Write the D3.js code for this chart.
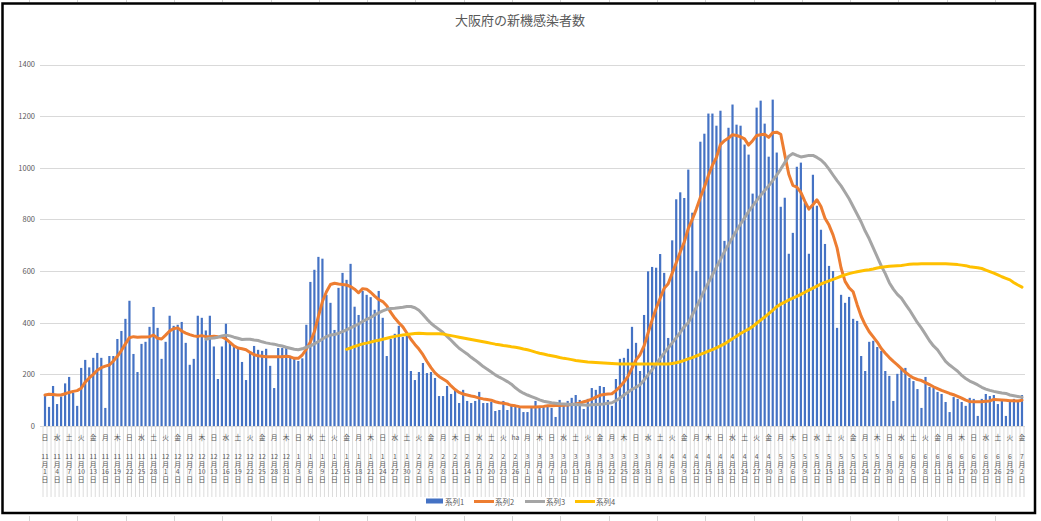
<!DOCTYPE html>
<html><head><meta charset="utf-8">
<script src="https://cdn.jsdelivr.net/npm/d3@7"></script>
<style>
body{margin:0;background:#fff}
svg{display:block}
text{font-family:"Noto Sans CJK JP","Noto Sans",sans-serif;fill:#595959}
</style>
</head><body>
<svg id="c" width="1041" height="521"></svg>
<script>
// ---------- data ----------
const chartTitle = "大阪府の新機感染者数";
const seriesNames = ["系列1","系列2","系列3","系列4"];
const categories = d3.utcDays(new Date(Date.UTC(2020,10,1)), new Date(Date.UTC(2021,6,3))).map(d3.utcFormat("%Y-%m-%d"));

const series1 = [
120,74,155,85,114,165,190,129,78,225,
256,227,264,283,264,70,271,271,337,368,
415,485,279,209,318,326,384,461,380,260,
326,427,388,392,403,322,237,260,427,419,
370,427,308,182,308,396,326,308,304,248,
178,283,310,295,291,299,233,147,302,302,
302,266,260,252,262,392,558,605,655,648,
508,477,372,535,593,566,628,462,430,523,
508,499,450,523,419,271,337,357,388,345,
357,213,178,209,244,205,209,186,116,116,
155,124,140,89,140,97,89,97,132,89,
89,93,58,62,97,62,78,78,70,54,
54,70,97,74,78,81,70,35,101,89,
97,109,120,101,66,105,147,140,155,151,
101,78,182,260,264,299,384,322,213,430,
599,616,613,666,593,341,719,878,905,883,
993,826,601,1101,1132,1210,1210,1163,1221,717,
1155,1245,1167,1163,1090,1051,900,1233,1260,1171,
1043,1264,1059,849,884,667,748,1004,1020,865,
667,973,853,760,705,620,600,380,508,477,
500,415,407,271,213,326,330,306,291,213,
194,97,202,221,225,186,174,143,70,190,
151,147,132,124,93,54,112,105,93,78,
109,105,39,105,124,116,120,85,97,39,
101,105,101,120];

const series2 = [
120,123,122,120,120,125,130,134,137,146,
170,186,200,216,226,232,236,252,270,292,
318,342,346,344,345,345,346,352,340,337,
352,368,377,380,368,360,354,349,347,350,
346,346,348,346,345,337,324,310,302,299,
295,285,276,272,270,268,268,268,268,268,
270,268,262,262,275,298,325,365,425,482,
520,548,553,550,548,546,540,530,516,532,
530,518,503,490,482,466,440,418,400,384,
360,336,316,298,276,250,226,206,192,182,
172,155,141,130,124,120,116,113,108,105,
103,100,94,90,88,85,80,78,75,74,
74,74,74,75,76,78,78,79,79,80,
81,83,85,88,94,98,104,112,119,122,
124,125,137,152,170,192,224,256,276,310,
360,410,455,495,533,551,592,632,674,712,
765,800,840,885,925,970,1010,1040,1090,1105,
1115,1128,1125,1120,1112,1088,1105,1125,1128,1130,
1118,1136,1138,1130,1050,975,932,925,905,870,
840,857,876,850,805,778,740,690,612,560,
535,520,470,425,392,365,345,325,300,282,
265,250,237,222,208,196,186,180,176,168,
160,152,145,138,132,126,121,115,108,100,
95,94,94,94,96,97,103,102,101,100,
98,98,97,100];

const series3 = [
null,null,null,null,null,null,null,null,null,null,
null,null,null,null,null,null,null,null,null,null,
null,null,null,null,null,null,null,null,null,null,
null,null,null,null,null,null,null,null,null,null,
336,340,341,344,349,352,349,344,340,335,
336,336,333,331,326,322,319,317,313,310,
305,301,297,295,299,305,310,318,327,337,
346,352,354,359,366,372,380,388,395,405,
413,420,430,438,446,452,455,456,458,460,
463,463,458,448,432,414,398,385,374,362,
347,332,316,301,290,279,266,255,243,230,
220,209,198,189,181,172,162,148,136,127,
120,114,108,101,96,93,90,88,86,85,
84,83,83,82,81,80,82,83,84,85,
88,90,98,108,120,131,142,150,160,178,
198,218,240,262,282,302,322,342,362,385,
400,430,460,492,525,555,585,615,645,675,
703,730,757,782,806,830,852,873,893,912,
930,950,972,995,1020,1045,1055,1048,1042,1045,
1048,1048,1040,1030,1015,995,972,950,930,905,
880,850,820,790,755,725,690,655,620,590,
555,530,510,495,472,450,425,400,379,355,
330,310,295,272,250,236,224,212,196,184,
174,167,159,150,143,138,134,131,128,126,
120,117,114,111];

const series4 = [
null,null,null,null,null,null,null,null,null,null,
null,null,null,null,null,null,null,null,null,null,
null,null,null,null,null,null,null,null,null,null,
null,null,null,null,null,null,null,null,null,null,
null,null,null,null,null,null,null,null,null,null,
null,null,null,null,null,null,null,null,null,null,
null,null,null,null,null,null,null,null,null,null,
null,null,null,null,null,297,302,308,313,318,
321,325,329,332,336,340,344,347,350,352,
354,356,358,359,358,357,357,357,357,356,
353,350,347,344,341,338,335,332,329,326,
323,320,317,315,312,310,307,305,302,298,
295,291,286,282,279,275,272,269,265,262,
260,257,254,252,250,248,247,246,245,244,
243,242,241,240,240,240,240,240,240,240,
240,240,240,240,240,240,242,245,249,254,
260,265,271,277,283,290,296,303,310,318,
328,338,348,358,367,375,385,398,410,422,
435,448,462,472,480,488,495,502,510,518,
526,534,542,550,556,562,568,574,580,585,
590,594,597,600,603,605,608,612,615,617,
619,620,621,622,624,626,627,627,628,628,
628,628,628,628,628,627,626,625,623,621,
617,615,613,610,604,598,592,585,578,572,
566,555,546,538];

const yTicks = [0,200,400,600,800,1000,1200,1400];
const weekdayLabels = [
"日","水","土","火","金","月","木","日","水","土","火","金","月","木",
"日","水","土","火","金","月","木","日","水","土","火","金","月","木",
"日","水","土","火","金","月","木","日","水","土","火","ha","月","木",
"日","水","土","火","金","月","木","日","水","土","火","金","月","木",
"日","水","土","火","金","月","木","日","水","土","火","金","月","木",
"日","水","土","火","金","月","木","日","水","土","火","金"];
const monthLabels = [
"11","11","11","11","11","11","11","11","11","11",
"12","12","12","12","12","12","12","12","12","12","12",
"1","1","1","1","1","1","1","1","1","1",
"2","2","2","2","2","2","2","2","2",
"3","3","3","3","3","3","3","3","3","3","3",
"4","4","4","4","4","4","4","4","4","4",
"5","5","5","5","5","5","5","5","5","5",
"6","6","6","6","6","6","6","6","6","6",
"7"];
const dayLabels = [
1,4,7,10,13,16,19,22,25,28,
1,4,7,10,13,16,19,22,25,28,31,
3,6,9,12,15,18,21,24,27,30,
2,5,8,11,14,17,20,23,26,
1,4,7,10,13,16,19,22,25,28,31,
3,6,9,12,15,18,21,24,27,30,
3,6,9,12,15,18,21,24,27,30,
2,5,8,11,14,17,20,23,26,29,
2];
const labelEvery = 3;

// ---------- drawing ----------
const W = 1041, H = 521;
const colors = ["#4472C4","#ED7D31","#A5A5A5","#FFC000"];
const textColor = "#595959";
const svg = d3.select("#c");
svg.append("rect").attr("width",W).attr("height",H).attr("fill","#fff");

// faint spreadsheet cell marks outside the chart frame
const outer = svg.append("g").attr("stroke","#d4d4d4").attr("stroke-width",1).attr("shape-rendering","crispEdges");
d3.range(29.5, 1030, 48.3).forEach(x => {
  outer.append("line").attr("x1",x).attr("x2",x).attr("y1",0).attr("y2",2);
  outer.append("line").attr("x1",x).attr("x2",x).attr("y1",516).attr("y2",521);
});

const x = d3.scaleBand().domain(categories).range([43,1024]).paddingInner(0.5).paddingOuter(0.25);
const y = d3.scaleLinear().domain([0,1400]).range([426,64.5]);
const cx = c => x(c) + x.bandwidth()/2;
const step = x.step();

// title
svg.append("text").attr("x",520).attr("y",25).attr("text-anchor","middle")
  .attr("font-size",13).attr("fill",textColor).text(chartTitle);

// horizontal gridlines + y labels
const yAxis = d3.axisLeft(y).tickValues(yTicks).tickFormat(d3.format("d")).tickSize(-(1025-40)).tickPadding(5);
const gy = svg.append("g").attr("transform","translate(40,0)").call(yAxis);
gy.select(".domain").remove();
gy.selectAll(".tick line").attr("stroke","#d9d9d9").attr("shape-rendering","crispEdges");
gy.selectAll(".tick text").attr("font-size",7.5).attr("fill",textColor).attr("x",-5)
  .style("font-family","'Noto Sans CJK JP',sans-serif");

// category divider lines in label area
const div = svg.append("g").attr("stroke","#dcdcdc").attr("stroke-width",1);
d3.range(categories.length+1).forEach(k => {
  const xx = 43 + k*step;
  div.append("line").attr("x1",xx).attr("x2",xx).attr("y1",426).attr("y2",497);
});
// x axis line
svg.append("line").attr("x1",43).attr("x2",1024).attr("y1",426.5).attr("y2",426.5)
  .attr("stroke","#d9d9d9");

// bars
svg.append("g").selectAll("rect").data(series1).join("rect")
  .attr("x",(d,i)=>cx(categories[i]) - 1.1)
  .attr("width",2.2)
  .attr("y",d=>y(d))
  .attr("height",d=>y(0)-y(d))
  .attr("fill",colors[0]);

// lines
const line = d3.line().defined(d=>d.v!=null).x(d=>cx(d.c)).y(d=>y(d.v));
[series2,series3,series4].forEach((s,k)=>{
  svg.append("path")
    .datum(s.map((v,i)=>({c:categories[i],v})))
    .attr("fill","none").attr("stroke",colors[k+1]).attr("stroke-width",3)
    .attr("stroke-linejoin","round").attr("stroke-linecap","round")
    .attr("d",line);
});

// x labels: weekday row, then wrapped date (month / 月 / day / 日)
const fs = 6.8, pitch = 7.6;
const lab = svg.append("g").attr("font-size",fs).attr("text-anchor","middle").attr("fill",textColor);
weekdayLabels.forEach((w,k)=>{
  const xx = cx(categories[k*labelEvery]);
  lab.append("text").attr("x",xx).attr("y",439.5).text(w);
  [monthLabels[k],"月",String(dayLabels[k]),"日"].forEach((s,j)=>{
    lab.append("text").attr("x",xx).attr("y",459 + j*pitch).text(s);
  });
});

// legend
const lg = svg.append("g");
const legendX = [426,474,525,575];
seriesNames.forEach((n,k)=>{
  const lx = legendX[k];
  if(k===0){
    lg.append("rect").attr("x",lx).attr("y",498.5).attr("width",17).attr("height",5).attr("fill",colors[0]);
  } else {
    lg.append("line").attr("x1",lx).attr("x2",lx+20).attr("y1",501.5).attr("y2",501.5)
      .attr("stroke",colors[k]).attr("stroke-width",3);
  }
  lg.append("text").attr("x",lx+(k===0?19:21)).attr("y",504.5).attr("font-size",7.5).attr("fill",textColor).text(n);
});

// chart frame
svg.append("rect").attr("x",2.5).attr("y",3.5).attr("width",1032.5).attr("height",509.5)
  .attr("fill","none").attr("stroke","#000").attr("stroke-width",2.5);
</script>
</body></html>
